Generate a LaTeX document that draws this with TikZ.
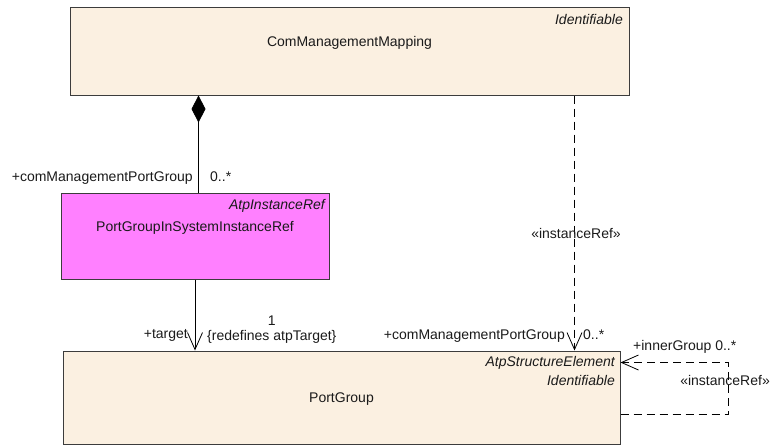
\documentclass[tikz,border=0pt]{standalone}
\usepackage{fontspec}
\setmainfont{Liberation Sans}
\usetikzlibrary{arrows.meta,positioning,calc}
\definecolor{clsfill}{HTML}{FBF0E1}
\definecolor{reffill}{HTML}{FF80FF}
\definecolor{edge}{HTML}{3C3C3C}
\definecolor{ink}{HTML}{1A1A1A}

\begin{document}
\begin{tikzpicture}[x=1pt,y=-1pt,
                    cls/.style={draw=edge,fill=clsfill,line width=1pt,inner sep=0pt},
                    iref/.style={cls,fill=reffill},
                    txt/.style={font=\fontsize{14}{16}\selectfont,color=ink,inner sep=0pt},
                    stereo/.style={txt,font=\fontsize{14}{16}\selectfont\itshape,anchor=base east},
                    nm/.style={txt,anchor=base},
                    lab/.style={txt,anchor=base west},
                    labr/.style={txt,anchor=base east},
                    assoc/.style={line width=0.8pt,color=black},
                    dep/.style={assoc,dash pattern=on 8pt off 5pt},
                    open/.style={-{Straight Barb[length=17pt,width=15pt,line width=0.8pt]}}]
  \useasboundingbox (0,0) rectangle (773,445);
  % classes
  \node[cls,minimum width=559pt,minimum height=87.5pt] (cmm) at (349.5,51.25) {};
  \node[nm] (cmmname) at (349.5,46.5) {ComManagementMapping};
  \node[stereo] (cmmst) at (623,24.3) {Identifiable};
  \node[iref,minimum width=268pt,minimum height=86pt] (pgi) at (195,236) {};
  \node[nm] (pginame) at (195,231.7) {PortGroupInSystemInstanceRef};
  \node[stereo] (pgist) at (325,209.3) {AtpInstanceRef};
  \node[cls,minimum width=557pt,minimum height=93pt] (pg) at (341.5,397.5) {};
  \node[stereo] (pgst1) at (615,366.7) {AtpStructureElement};
  \node[stereo] (pgst2) at (615,385) {Identifiable};
  \node[nm] (pgname) at (341.5,402) {PortGroup};
  % connectors
  \coordinate (comp) at ($(cmm.south west)+(129,0)$);
  \coordinate (iref) at ($(cmm.south west)+(505,0)$);
  \draw[assoc,{Diamond[length=27pt,width=14pt]}-] (comp) -- (comp |- pgi.north);
  \draw[assoc,open] (pgi.south) -- (pgi.south |- pg.north);
  \draw[dep,open] (iref) -- (iref |- pg.north);
  \draw[dep,open] ($(pg.north east)+(0,64)$) -- ++(108,0) -- ++(0,-52) -- ($(pg.north east)+(0,12)$);
  % role labels
  \node[labr] at (193,181) {+comManagementPortGroup};
  \node[lab] at (210,181) {0..*};
  \node[labr] at (188,338.3) {+target};
  \node[lab] (rdf) at (207,340) {\{redefines atpTarget\}};
  \node[nm] at ($(rdf.base)+(0,-15)$) {1};
  \node[nm] at (576,238) {«instanceRef»};
  \node[labr] at (565,339.3) {+comManagementPortGroup};
  \node[lab] at (583,339.3) {0..*};
  \node[lab] at (633,350.7) {+innerGroup 0..*};
  \node[labr] at (770,385) {«instanceRef»};
\end{tikzpicture}
\end{document}
